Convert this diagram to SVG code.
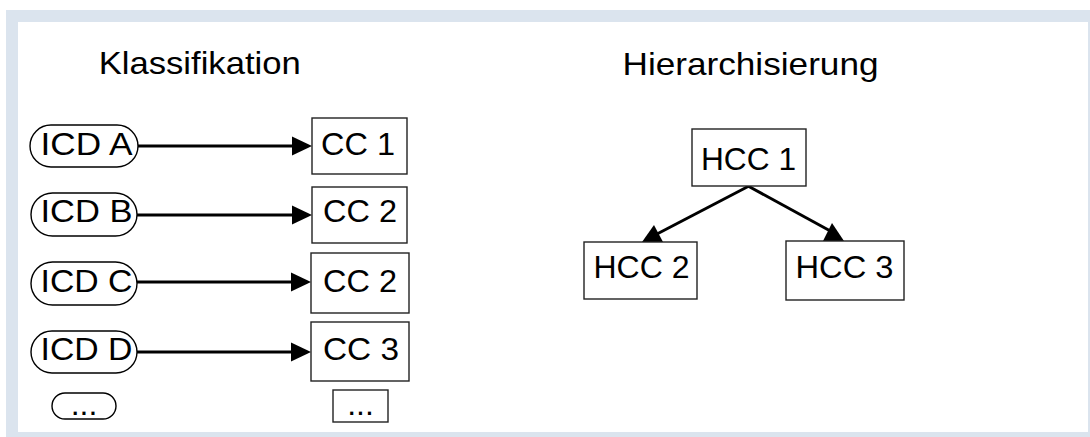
<svg xmlns="http://www.w3.org/2000/svg" width="1090" height="437" viewBox="0 0 1090 437">
<defs>
<style>
.t{font-family:"Liberation Sans",Arial,sans-serif;font-size:32px;fill:#000}
.box{fill:#fff;stroke:#222;stroke-width:1.4}
.pill{fill:#fff;stroke:#000;stroke-width:1.4}
.ln{stroke:#000;stroke-width:3;fill:none}
.ah{fill:#000;stroke:none}
</style>
</defs>
<rect x="0" y="0" width="1090" height="437" fill="#fff"/>
<rect x="6" y="10" width="1084" height="427" fill="#dbe4ee"/>
<rect x="18" y="22" width="1070" height="410" fill="#fff"/>

<g id="title-klassifikation"><text class="t" x="98.7" y="73.5" textLength="202" lengthAdjust="spacingAndGlyphs">Klassifikation</text></g>
<g id="title-hierarchisierung"><text class="t" x="622.5" y="75" textLength="256" lengthAdjust="spacingAndGlyphs">Hierarchisierung</text></g>

<g id="connectors">
<line class="ln" x1="138" y1="146" x2="294" y2="146"/>
<polygon class="ah" points="292,136.5 312,146 292,155.5"/>
<line class="ln" x1="137" y1="215" x2="294" y2="215"/>
<polygon class="ah" points="292,205.5 312,215 292,224.5"/>
<line class="ln" x1="137" y1="282" x2="293" y2="282"/>
<polygon class="ah" points="291,272.5 311,282 291,291.5"/>
<line class="ln" x1="137" y1="352" x2="293" y2="352"/>
<polygon class="ah" points="291,342.5 311,352 291,361.5"/>
<line class="ln" x1="749" y1="186" x2="657" y2="234"/>
<polygon class="ah" points="642,242 654,225 663,242"/>
<line class="ln" x1="748" y1="186" x2="834" y2="233"/>
<polygon class="ah" points="823,241 832,223 844,241"/>
</g>

<g id="icd-a"><rect class="pill" x="30" y="125" width="108" height="42" rx="21"/><text class="t" x="86.5" y="155" text-anchor="middle" textLength="92" lengthAdjust="spacingAndGlyphs">ICD A</text></g>
<g id="icd-b"><rect class="pill" x="31" y="193" width="106" height="43" rx="21.5"/><text class="t" x="86.5" y="222" text-anchor="middle" textLength="92" lengthAdjust="spacingAndGlyphs">ICD B</text></g>
<g id="icd-c"><rect class="pill" x="31" y="262" width="106" height="43" rx="21.5"/><text class="t" x="86.5" y="291.5" text-anchor="middle" textLength="92" lengthAdjust="spacingAndGlyphs">ICD C</text></g>
<g id="icd-d"><rect class="pill" x="31" y="331" width="106" height="42" rx="21"/><text class="t" x="86.5" y="360" text-anchor="middle" textLength="92" lengthAdjust="spacingAndGlyphs">ICD D</text></g>
<g id="icd-more"><rect class="pill" x="52" y="393" width="64" height="26" rx="13"/><text class="t" x="84" y="415" text-anchor="middle">...</text></g>

<g id="cc-1"><rect class="box" x="312" y="118" width="95" height="56"/><text class="t" x="358" y="155" text-anchor="middle" textLength="74" lengthAdjust="spacingAndGlyphs">CC 1</text></g>
<g id="cc-2a"><rect class="box" x="312" y="187" width="95" height="56"/><text class="t" x="360" y="222" text-anchor="middle" textLength="74" lengthAdjust="spacingAndGlyphs">CC 2</text></g>
<g id="cc-2b"><rect class="box" x="311" y="253" width="98" height="60"/><text class="t" x="360" y="291.5" text-anchor="middle" textLength="74" lengthAdjust="spacingAndGlyphs">CC 2</text></g>
<g id="cc-3"><rect class="box" x="311" y="322" width="98" height="59"/><text class="t" x="361" y="360" text-anchor="middle" textLength="76" lengthAdjust="spacingAndGlyphs">CC 3</text></g>
<g id="cc-more"><rect class="box" x="333" y="390" width="55" height="32"/><text class="t" x="360.5" y="415" text-anchor="middle">...</text></g>

<g id="hcc-1"><rect class="box" x="692" y="129" width="114" height="57"/><text class="t" x="748.5" y="170" text-anchor="middle" textLength="95" lengthAdjust="spacingAndGlyphs">HCC 1</text></g>
<g id="hcc-2"><rect class="box" x="584" y="242" width="113" height="57"/><text class="t" x="641.5" y="278" text-anchor="middle" textLength="96" lengthAdjust="spacingAndGlyphs">HCC 2</text></g>
<g id="hcc-3"><rect class="box" x="786" y="241" width="118" height="59"/><text class="t" x="844.5" y="278" text-anchor="middle" textLength="98" lengthAdjust="spacingAndGlyphs">HCC 3</text></g>
</svg>
